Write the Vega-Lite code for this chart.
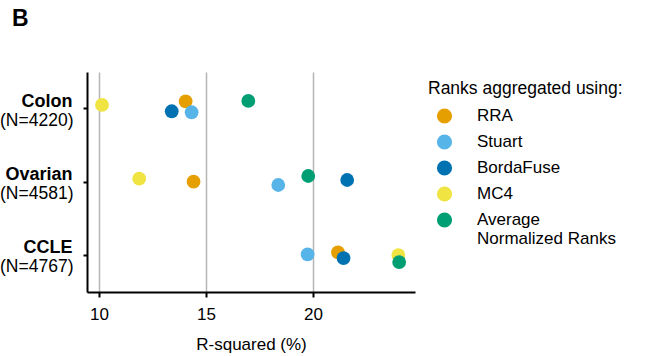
{
  "$schema": "https://vega.github.io/schema/vega-lite/v6.json",
  "autosize": "none",
  "width": 328,
  "height": 220,
  "padding": {"left": 87, "top": 72, "right": 241, "bottom": 64},
  "title": {"text": "B", "anchor": "start", "frame": "group", "dx": -75, "offset": 41, "fontSize": 23, "fontWeight": "bold", "font": "Liberation Sans", "color": "black"},
  "config": {
    "view": {"stroke": null},
    "font": "Liberation Sans",
    "axis": {"labelColor": "black", "titleColor": "black", "domainColor": "black", "tickColor": "black", "domainWidth": 2, "tickWidth": 2, "labelFont": "Liberation Sans", "titleFont": "Liberation Sans"}
  },
  "data": {"values": [
    {"dataset": "Colon", "method": "RRA", "r2": 14.05, "jitter": -7.4},
    {"dataset": "Colon", "method": "Stuart", "r2": 14.33, "jitter": 3.6},
    {"dataset": "Colon", "method": "BordaFuse", "r2": 13.4, "jitter": 2.6},
    {"dataset": "Colon", "method": "MC4", "r2": 10.14, "jitter": -3.7},
    {"dataset": "Colon", "method": "Average Normalized Ranks", "r2": 16.98, "jitter": -7.7},
    {"dataset": "Ovarian", "method": "RRA", "r2": 14.42, "jitter": -0.3},
    {"dataset": "Ovarian", "method": "Stuart", "r2": 18.38, "jitter": 3},
    {"dataset": "Ovarian", "method": "BordaFuse", "r2": 21.6, "jitter": -2},
    {"dataset": "Ovarian", "method": "MC4", "r2": 11.88, "jitter": -3.3},
    {"dataset": "Ovarian", "method": "Average Normalized Ranks", "r2": 19.78, "jitter": -6},
    {"dataset": "CCLE", "method": "RRA", "r2": 21.17, "jitter": -3},
    {"dataset": "CCLE", "method": "Stuart", "r2": 19.75, "jitter": -1},
    {"dataset": "CCLE", "method": "BordaFuse", "r2": 21.43, "jitter": 2.7},
    {"dataset": "CCLE", "method": "MC4", "r2": 23.99, "jitter": -0.3},
    {"dataset": "CCLE", "method": "Average Normalized Ranks", "r2": 24.03, "jitter": 6.7}
  ]},
  "resolve": {"axis": {"y": "independent"}},
  "layer": [
    {
      "mark": {"type": "point", "filled": true, "opacity": 1, "size": 190, "shape": "circle"},
      "encoding": {
        "x": {"field": "r2", "type": "quantitative", "title": "R-squared (%)",
          "scale": {"domain": [9.44, 24.77], "nice": false, "zero": false},
          "axis": {"values": [10, 15, 20], "grid": true, "gridColor": "#b5b5b5", "gridWidth": 1.5, "labelFontSize": 17, "titleFontSize": 17, "titleFontWeight": "normal", "tickSize": 5, "labelPadding": 9, "titlePadding": 14}},
        "y": {"field": "dataset", "type": "nominal", "sort": ["Colon", "Ovarian", "CCLE"],
          "scale": {"paddingInner": 0, "paddingOuter": 0},
          "axis": {"orient": "left", "title": null, "labelFontSize": 18, "labelFontWeight": "bold", "labelOffset": -7, "labelBaseline": "middle", "tickSize": 4, "labelPadding": 11, "grid": false}},
        "yOffset": {"field": "jitter", "type": "quantitative", "scale": {"domain": [-36.67, 36.67]}},
        "color": {"field": "method", "type": "nominal",
          "scale": {"domain": ["RRA", "Stuart", "BordaFuse", "MC4", "Average Normalized Ranks"], "range": ["#E69F00", "#56B4E9", "#0072B2", "#F0E442", "#009E73"]},
          "legend": {"title": "Ranks aggregated using:", "orient": "none", "legendX": 341, "legendY": 8, "padding": 0,
            "titleFontSize": 17.5, "titleFontWeight": "normal", "titleColor": "black", "titlePadding": 10, "titleLimit": 400,
            "labelFontSize": 17, "labelColor": "black", "labelOffset": 24, "symbolSize": 230, "symbolType": "circle", "symbolOffset": 8, "symbolOpacity": 1, "symbolStrokeWidth": 0, "rowPadding": 8,
            "labelLimit": 300,
            "labelExpr": "datum.label == 'Average Normalized Ranks' ? ['Average', 'Normalized Ranks'] : datum.label"}}
      }
    },
    {
      "mark": {"type": "point", "opacity": 0},
      "encoding": {
        "y": {"field": "dataset", "type": "nominal", "sort": ["Colon", "Ovarian", "CCLE"],
          "axis": {"orient": "left", "title": null, "domain": false, "ticks": false, "labelFontSize": 17.5, "labelFontWeight": "normal", "labelOffset": 12, "labelBaseline": "middle", "labelPadding": 14, "grid": false,
            "labelExpr": "datum.value == 'Colon' ? '(N=4220)' : datum.value == 'Ovarian' ? '(N=4581)' : '(N=4767)'"}}
      }
    }
  ]
}
